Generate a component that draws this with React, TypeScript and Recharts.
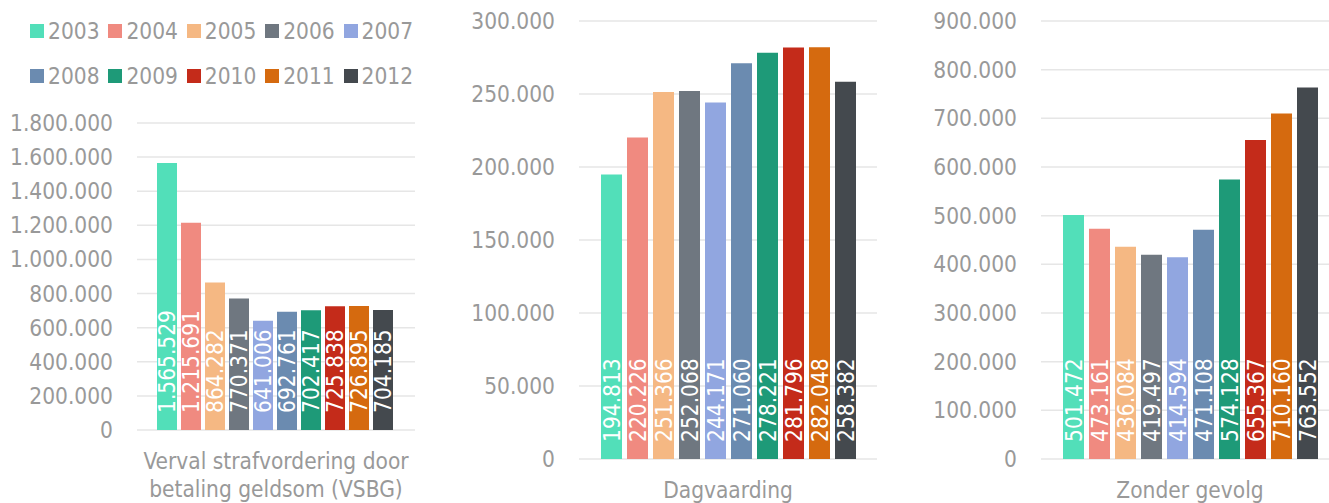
import React from "react";
import { BarChart, Bar, XAxis, YAxis, CartesianGrid, LabelList } from "recharts";

const years = ["2003", "2004", "2005", "2006", "2007", "2008", "2009", "2010", "2011", "2012"];
const colors = ["#52dfb9", "#f08a80", "#f5b883", "#6f7780", "#91a6e0", "#6b8bb0", "#1e9a78", "#c42b1a", "#d56a0f", "#44494e"];

const categories = ["Verval strafvordering door betaling geldsom (VSBG)", "Dagvaarding", "Zonder gevolg"];

const vsbg = [1565529, 1215691, 864282, 770371, 641006, 692761, 702417, 725838, 726895, 704185];
const dagvaarding = [194813, 220226, 251366, 252068, 244171, 271060, 278221, 281796, 282048, 258382];
const zonderGevolg = [501472, 473161, 436084, 419497, 414594, 471108, 574128, 655367, 710160, 763552];

const vsbgTicks = [0, 200000, 400000, 600000, 800000, 1000000, 1200000, 1400000, 1600000, 1800000];
const dagTicks = [0, 50000, 100000, 150000, 200000, 250000, 300000];
const zonderTicks = [0, 100000, 200000, 300000, 400000, 500000, 600000, 700000, 800000, 900000];

const FONT = "'DejaVu Sans Condensed', 'Open Sans', sans-serif";
const FS = 22.5;
const GREY = "#999999";

const fmt = (v: number) => String(v).replace(/\B(?=(\d{3})+(?!\d))/g, ".");

function wrap(label: string, max: number) {
  const lines: string[] = [];
  let cur = "";
  for (const w of label.split(" ")) {
    const next = cur ? cur + " " + w : w;
    if (next.length > max && cur) {
      lines.push(cur);
      cur = w;
    } else cur = next;
  }
  if (cur) lines.push(cur);
  return lines;
}

const CategoryTick = (props: any) => {
  const { x, y, payload } = props;
  const lines = wrap(String(payload.value), 27);
  return (
    <text x={x} y={y} textAnchor="middle" fill={GREY} fontSize={FS} fontFamily={FONT}>
      {lines.map((l, i) => (
        <tspan key={i} x={x} y={y + 37 + i * 28}>
          {l}
        </tspan>
      ))}
    </text>
  );
};

const BarValue = (props: any) => {
  const { x, y, width, height, value } = props;
  const cx = x + width / 2;
  const cy = y + height - 17;
  return (
    <text
      transform={`translate(${cx},${cy}) rotate(-90)`}
      x={0}
      y={0}
      dy="0.36em"
      textAnchor="start"
      fill="#ffffff"
      fontSize={FS}
      fontFamily={FONT}
    >
      {fmt(value)}
    </text>
  );
};

interface PanelProps {
  category: string;
  values: number[];
  ticks: number[];
  left: number;
  width: number;
  top: number;
  bottom: number;
  right: number;
  axisWidth: number;
  barGap: number;
  catGap: number;
}

function Panel({ category, values, ticks, left, width, top, bottom, right, axisWidth, barGap, catGap }: PanelProps) {
  const row: Record<string, any> = { category };
  years.forEach((y, i) => (row[y] = values[i]));
  return (
    <div style={{ position: "absolute", left, top: 0 }}>
      <BarChart
        width={width}
        height={503}
        data={[row]}
        margin={{ top, right, bottom: 503 - bottom - 60, left: 0 }}
        barGap={barGap}
        barCategoryGap={catGap}
      >
        <CartesianGrid vertical={false} stroke="#e6e6e6" strokeWidth={1.5} />
        <XAxis
          dataKey="category"
          axisLine={false}
          tickLine={false}
          tickSize={0}
          height={60}
          tick={<CategoryTick />}
          interval={0}
        />
        <YAxis
          width={axisWidth}
          domain={[0, ticks[ticks.length - 1]]}
          ticks={ticks}
          tickFormatter={fmt}
          axisLine={false}
          tickLine={false}
          tickSize={0}
          tickMargin={24}
          tick={{ fill: GREY, fontSize: FS, fontFamily: FONT }}
          interval={0}
        />
        {years.map((y, i) => (
          <Bar key={y} dataKey={y} fill={colors[i]} isAnimationActive={false}>
            <LabelList dataKey={y} content={<BarValue />} />
          </Bar>
        ))}
      </BarChart>
    </div>
  );
}

export default function App() {
  return (
    <div
      style={{
        position: "fixed",
        left: 0,
        top: 0,
        width: 1329,
        height: 503,
        overflow: "hidden",
        background: "#ffffff",
        fontFamily: FONT,
      }}
    >
      <div
        style={{
          position: "absolute",
          left: 30,
          top: 8,
          width: 400,
          display: "flex",
          flexWrap: "wrap",
        }}
      >
        {years.map((y, i) => (
          <div
            key={y}
            style={{ width: 78.4, height: 45, display: "flex", alignItems: "center", color: GREY, fontSize: FS }}
          >
            <span style={{ width: 14, height: 14, background: colors[i], marginRight: 4, flexShrink: 0 }} />
            <span>{y}</span>
          </div>
        ))}
      </div>
      <Panel
        category={categories[0]}
        values={vsbg}
        ticks={vsbgTicks}
        left={0}
        width={430}
        top={123}
        bottom={430}
        right={15}
        axisWidth={137}
        barGap={4}
        catGap={20}
      />
      <Panel
        category={categories[1]}
        values={dagvaarding}
        ticks={dagTicks}
        left={440}
        width={440}
        top={21}
        bottom={459}
        right={3}
        axisWidth={139}
        barGap={5}
        catGap={22}
      />
      <Panel
        category={categories[2]}
        values={zonderGevolg}
        ticks={zonderTicks}
        left={900}
        width={439}
        top={21}
        bottom={459}
        right={0}
        axisWidth={141}
        barGap={5}
        catGap={22}
      />
    </div>
  );
}
